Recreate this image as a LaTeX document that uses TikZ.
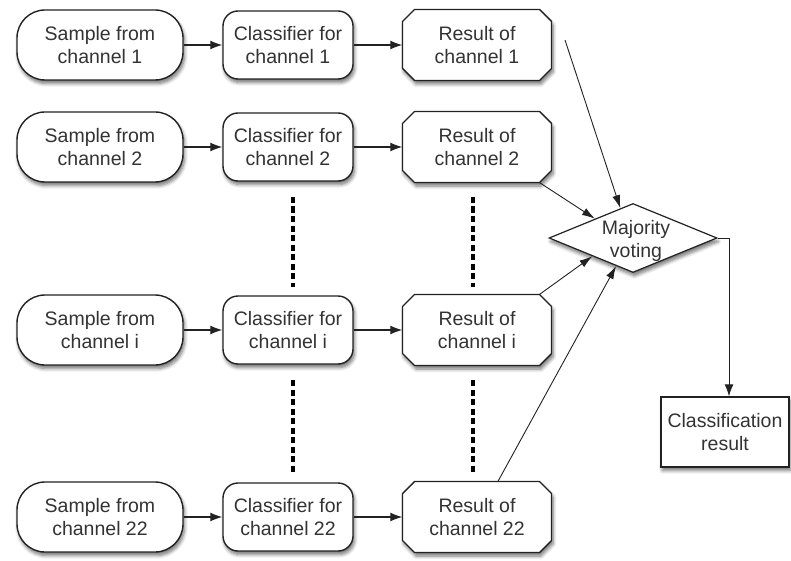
\documentclass[tikz,border=0pt]{standalone}
\usepackage{fontspec}
\setmainfont{Liberation Sans}
\usetikzlibrary{arrows.meta,calc,shapes.geometric,shadows.blur}
\definecolor{ink}{HTML}{222222}
\definecolor{txt}{HTML}{333333}
\begin{document}
\begin{tikzpicture}[x=1pt,y=-1pt,
  every node/.style={font=\fontsize{19.5}{23}\selectfont, text=txt, align=center, inner sep=0pt},
  soft/.style={blur shadow={shadow xshift=1.5pt, shadow yshift=-3.5pt, shadow blur steps=6, shadow opacity=55, shadow blur radius=3.5pt}},
  boxline/.style={draw=ink, line width=1.4pt, fill=white, soft},
  samplebox/.style={boxline, rounded corners=28pt, minimum width=166pt, minimum height=70pt},
  clfbox/.style={boxline, rounded corners=15pt, minimum width=130pt, minimum height=68pt},
  resbox/.style={minimum width=149pt, minimum height=71pt},
  votebox/.style={boxline, line width=1.2pt, diamond, minimum width=168pt, minimum height=69pt},
  outbox/.style={boxline, rectangle, minimum width=128pt, minimum height=70pt},
  flow/.style={draw=ink, line width=1.3pt, -{Latex[length=12pt,width=9pt]}},
  vote/.style={draw=ink, line width=0.9pt, -{Latex[length=13pt,width=8pt]}},
  gap/.style={draw=black, line width=4pt, dash pattern=on 6pt off 3.5pt}]
\useasboundingbox (0,0) rectangle (791,561);

% sample inputs
\node[samplebox] (s1) at (100,45)  {Sample from\\channel 1};
\node[samplebox] (s2) at (100,147) {Sample from\\channel 2};
\node[samplebox] (si) at (100,330) {Sample from\\channel i};
\node[samplebox] (sn) at (100,517) {Sample from\\channel 22};

% per-channel classifiers
\node[clfbox] (c1) at (288,45)  {Classifier for\\channel 1};
\node[clfbox] (c2) at (288,147) {Classifier for\\channel 2};
\node[clfbox] (ci) at (288,330) {Classifier for\\channel i};
\node[clfbox] (cn) at (288,517) {Classifier for\\channel 22};

% per-channel results: chamfered outline, then the label node on top
\foreach \k/\ch/\y in {1/1/45, 2/2/147, i/i/330, n/22/517} {
  \path[boxline] (477,\y) ++(-62.5,-35.5) -- ++(125,0) -- ++(12,12) -- ++(0,47)
    -- ++(-12,12) -- ++(-125,0) -- ++(-12,-12) -- ++(0,-47) -- cycle;
  \node[resbox] (r\k) at (477,\y) {Result of\\channel \ch};
}

% voting and final output
\node[votebox] (mv) at (633,238) {};
\node (mvtext) at (636,241) {Majority\\voting};
\node[outbox] (out) at (725,432) {Classification\\result};

% row connectors
\foreach \k in {1,2,i,n} {
  \draw[flow] (s\k.east) -- (c\k.west);
  \draw[flow] (c\k.east) -- (r\k.west);
}

% elided channels
\coordinate (ca) at (293,197);
\coordinate (cb) at (293,287);
\coordinate (cc) at (293,380);
\coordinate (cd) at (293,472);
\coordinate (ra) at (473,197);
\coordinate (rb) at (473,287);
\coordinate (rc) at (473,380);
\coordinate (rd) at (473,472);
\draw[gap] (ca) -- (cb);
\draw[gap] (cc) -- (cd);
\draw[gap] (ra) -- (rb);
\draw[gap] (rc) -- (rd);

% results into the vote
\coordinate (v1) at (565,40);
\draw[vote] (v1) -- ($(mv.north)!0.15!(mv.west)$);
\draw[vote] ([xshift=-12pt]r2.south east) -- ($(mv.north)!0.45!(mv.west)$);
\draw[vote] ([xshift=-12pt]ri.north east) -- ($(mv.south)!0.48!(mv.west)$);
\draw[vote] ([xshift=21pt]rn.north) -- ($(mv.south)!0.2!(mv.west)$);

% vote to final result
\draw[flow, line width=0.9pt] (mv.east) -| ([xshift=4pt]out.north);
\end{tikzpicture}
\end{document}
